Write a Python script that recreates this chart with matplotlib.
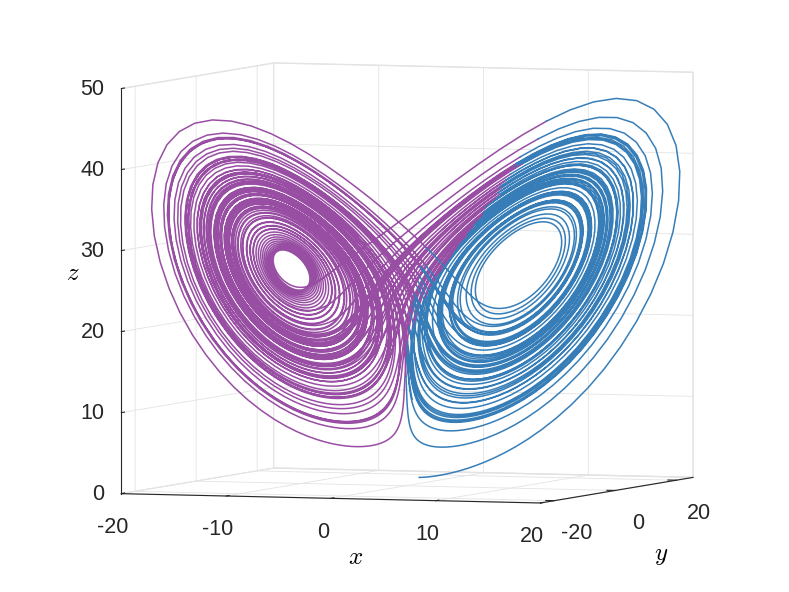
import numpy as np
import matplotlib.pyplot as plt

# Lorenz system and trajectory settings
sigma, rho, beta = 10.0, 28.0, 8.0 / 3.0
start = [1.0, 1.0, 1.0]
dt = 0.01
t_end = 100.0

x_ticks = [-20, -10, 0, 10, 20]
y_ticks = [-20, 0, 20]
z_ticks = [0, 10, 20, 30, 40, 50]
x_lim = (-20, 20)
y_lim = (-24.5, 25.5)
z_lim = (0, 50)

purple = '#984EA3'
blue = '#377EB8'


def lorenz(s):
    x, y, z = s
    return np.array([sigma * (y - x), x * (rho - z) - y, x * y - beta * z])


# RK4 integration of the Lorenz equations
n = int(round(t_end / dt))
pts = np.empty((n + 1, 3))
pts[0] = start
for i in range(n):
    s = pts[i]
    k1 = lorenz(s)
    k2 = lorenz(s + dt / 2 * k1)
    k3 = lorenz(s + dt / 2 * k2)
    k4 = lorenz(s + dt * k3)
    pts[i + 1] = s + dt / 6 * (k1 + 2 * k2 + 2 * k3 + k4)
x, y, z = pts.T

# right lobe (x>0, y>0) in blue, everything else purple
right = (x > 0) & (y > 0)
blue_mask = right | np.roll(right, 1)
purple_mask = ~right | np.roll(~right, 1)

plt.rcParams['font.family'] = ['Liberation Sans', 'DejaVu Sans']
plt.rcParams['mathtext.fontset'] = 'cm'
plt.rcParams['axes.unicode_minus'] = False
plt.rcParams['grid.color'] = '#e3e3e3'
plt.rcParams['grid.linewidth'] = 0.6

fig = plt.figure(figsize=(7.89, 5.92), dpi=100)
ax = fig.add_axes([0.006, 0.0085, 1.0, 1.0], projection='3d')
ax.set_proj_type('ortho')
ax.view_init(elev=3.5, azim=-70)
ax.set_box_aspect((1, 1, 0.91), zoom=1.23)

ax.plot(np.where(purple_mask, x, np.nan), y, z, color=purple, lw=1.1)
ax.plot(np.where(blue_mask, x, np.nan), y, z, color=blue, lw=1.1)

ax.set_xlim(*x_lim)
ax.set_ylim(*y_lim)
ax.set_zlim(*z_lim)
ax.set_xticks(x_ticks)
ax.set_yticks(y_ticks)
ax.set_zticks(z_ticks)
ax.tick_params(labelsize=15.5, colors='#262626', pad=4)
ax.zaxis.set_tick_params(pad=-1.5)
for lab in ax.get_zticklabels():
    lab.set_verticalalignment('center')
    lab.set_horizontalalignment('right')

for axis in (ax.xaxis, ax.yaxis, ax.zaxis):
    axis.set_pane_color((1, 1, 1, 1))
    axis.pane.set_edgecolor('#e3e3e3')
    axis.line.set_color('#262626')
    axis.line.set_linewidth(0.8)
    axis._axinfo['tick']['inward_factor'] = 0.0
    axis._axinfo['tick']['outward_factor'] = 0.25

ax.zaxis.set_ticks_position('lower')

# axis titles placed like the MATLAB figure
fig.text(0.451, 0.059, '$x$', fontsize=18, ha='center', va='center')
fig.text(0.838, 0.0625, '$y$', fontsize=18, ha='center', va='center')
fig.text(0.0925, 0.539, '$z$', fontsize=18, ha='center', va='center')

fig.savefig('out.png', dpi=100)
